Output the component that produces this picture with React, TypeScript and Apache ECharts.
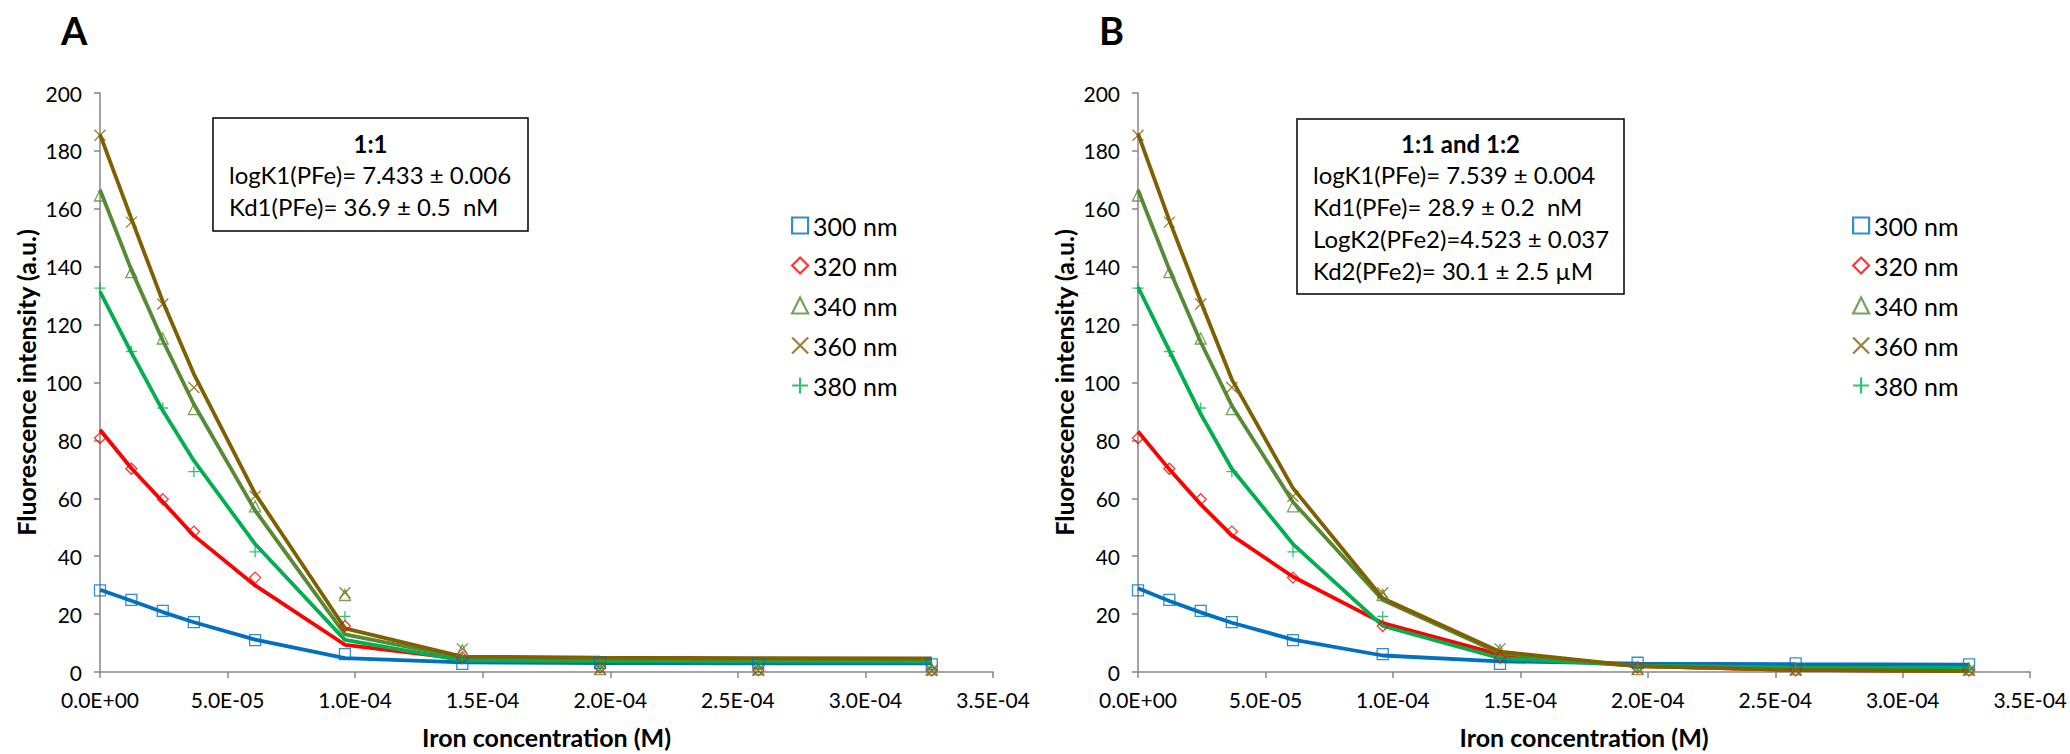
import React, { useEffect, useRef } from "react";
import * as echarts from "echarts";

// Iron concentration (M)
const ironConc = [0, 1.23e-5, 2.46e-5, 3.68e-5, 6.08e-5, 9.6e-5, 1.42e-4, 1.96e-4, 2.58e-4, 3.26e-4];

const wavelengths = ["300 nm", "320 nm", "340 nm", "360 nm", "380 nm"];

// Measured fluorescence (same in both panels)
const obs300 = [28.2, 24.9, 21.1, 17.2, 11.0, 6.2, 2.8, 3.2, 3.0, 2.6];
const obs320 = [80.8, 70.2, 59.7, 48.5, 32.6, 15.9, 5.0, 1.5, 0.6, 0.5];
const obs340 = [164.6, 138.1, 115.2, 90.8, 57.2, 26.6, 7.5, 1.0, 0.9, 0.9];
const obs360 = [185.4, 155.4, 127.1, 98.3, 60.7, 27.4, 8.0, 1.0, 0.6, 0.5];
const obs380 = [132.6, 110.7, 91.2, 69.2, 41.5, 19.2, 4.5, 2.0, 1.6, 1.5];

// Fit panel A (1:1)
const fitA300 = [28.4, 24.6, 20.7, 17.2, 11.2, 4.8, 3.3, 3.1, 3.0, 3.0];
const fitA320 = [83.7, 70.4, 58.8, 47.1, 29.9, 9.4, 4.5, 3.6, 3.5, 3.5];
const fitA340 = [166.6, 138.9, 114.5, 92.5, 55.8, 13.0, 5.0, 4.6, 4.4, 4.3];
const fitA360 = [185.7, 156.6, 128.0, 102.9, 61.6, 15.1, 5.3, 5.0, 4.8, 4.7];
const fitA380 = [131.4, 110.3, 90.3, 73.0, 44.2, 11.1, 4.0, 3.8, 3.7, 3.6];

// Fit panel B (1:1 and 1:2)
const fitB300 = [28.9, 24.5, 20.6, 17.0, 11.2, 5.7, 3.7, 2.9, 2.7, 2.5];
const fitB320 = [83.1, 70.0, 57.9, 47.2, 32.9, 16.9, 6.0, 2.0, 0.7, 0.3];
const fitB340 = [166.5, 139.0, 114.0, 92.0, 58.7, 24.9, 6.5, 2.0, 0.8, 0.3];
const fitB360 = [186.0, 156.0, 128.0, 101.1, 63.5, 25.5, 7.0, 2.0, 0.7, 0.3];
const fitB380 = [133.0, 111.0, 89.1, 70.2, 44.2, 15.9, 4.8, 2.2, 1.5, 1.3];

const yTicks = { min: 0, max: 200, interval: 20 };
const xTicks = { min: 0, max: 3.5e-4, interval: 5e-5 };

const boxA = ["1:1", "logK1(PFe)= 7.433 ± 0.006", "Kd1(PFe)= 36.9 ± 0.5  nM"];
const boxB = [
  "1:1 and 1:2",
  "logK1(PFe)= 7.539 ± 0.004",
  "Kd1(PFe)= 28.9 ± 0.2  nM",
  "LogK2(PFe2)=4.523 ± 0.037",
  "Kd2(PFe2)= 30.1 ± 2.5 µM",
];

const colors = ["#0070C0", "#FF0000", "#578A34", "#7F6000", "#00B050"];
const symbols = [
  "rect",
  "diamond",
  "triangle",
  "path://M0,0L10,10M10,0L0,10",
  "path://M5,0L5,10M0,5L10,5",
];

const FONT = 'Lato, "Noto Sans", sans-serif';

const fmtExp = (v: number) => {
  if (Math.abs(v) < 1e-12) return "0.0E+00";
  const s = v.toExponential(1).toUpperCase();
  return s.replace(/E([+-])(\d+)$/, (_m, sg, d) => "E" + sg + (d.length < 2 ? "0" + d : d));
};

const pair = (ys: number[]) => ironConc.map((x, i) => [x, ys[i]]);

export default function App() {
  const ref = useRef<HTMLDivElement>(null);
  useEffect(() => {
    if (!ref.current) return;
    const chart = echarts.init(ref.current, null, { renderer: "svg" });
    const obs = [obs300, obs320, obs340, obs360, obs380];
    const fitA = [fitA300, fitA320, fitA340, fitA360, fitA380];
    const fitB = [fitB300, fitB320, fitB340, fitB360, fitB380];
    const lineOrder = [0, 1, 4, 2, 3];

    const grids = [
      { left: 100, top: 93, width: 893, height: 583 },
      { left: 1138, top: 93, width: 911, height: 583 },
    ];

    const axisLine = { show: true, lineStyle: { color: "#868686", width: 1.5 } };
    const axisTick = { show: true, inside: false, length: 6, lineStyle: { color: "#868686", width: 1.5 } };

    const xAxes = [0, 1].map((g) => ({
      type: "value",
      gridIndex: g,
      min: xTicks.min,
      max: xTicks.max,
      interval: xTicks.interval,
      axisLine,
      axisTick,
      splitLine: { show: false },
      axisLabel: { formatter: fmtExp, fontSize: 21, fontFamily: FONT, color: "#000", margin: 17 },
      name: "Iron concentration (M)",
      nameLocation: "middle",
      nameGap: 52,
      nameTextStyle: { fontSize: 25, fontWeight: "bold", fontFamily: FONT, color: "#000" },
    }));

    const yAxes = [0, 1].map((g) => ({
      type: "value",
      gridIndex: g,
      min: yTicks.min,
      max: yTicks.max,
      interval: yTicks.interval,
      axisLine,
      axisTick,
      splitLine: { show: false },
      axisLabel: { fontSize: 21, fontFamily: FONT, color: "#000", margin: 18 },
      name: "Fluorescence intensity (a.u.)",
      nameLocation: "middle",
      nameGap: 62,
      nameTextStyle: { fontSize: 25, fontWeight: "bold", fontFamily: FONT, color: "#000" },
    }));

    const series: any[] = [];
    [fitA, fitB].forEach((fits, g) => {
      lineOrder.forEach((k) => {
        series.push({
          type: "line",
          name: wavelengths[k] + " fit " + (g === 0 ? "A" : "B"),
          xAxisIndex: g,
          yAxisIndex: g,
          data: pair(fits[k]),
          showSymbol: false,
          symbol: "none",
          lineStyle: { color: colors[k], width: 3.8 },
          itemStyle: { color: colors[k] },
          z: 2,
        });
      });
      for (let k = 0; k < 5; k++) {
        series.push({
          type: "scatter",
          name: wavelengths[k],
          xAxisIndex: g,
          yAxisIndex: g,
          data: pair(obs[k]),
          symbol: symbols[k],
          symbolSize: 11,
          itemStyle: { color: "transparent", borderColor: colors[k], borderWidth: 1.3 },
          z: 3,
        });
      }
    });

    const legendBase = {
      orient: "vertical",
      top: 208,
      itemGap: 15,
      itemWidth: 16,
      itemHeight: 16,
      data: wavelengths,
      selectedMode: false,
      itemStyle: { borderWidth: 2.2 },
      textStyle: { fontSize: 25, fontFamily: FONT, color: "#000" },
    };

    const textStyle = (bold: boolean) => ({
      fontSize: 24,
      fontFamily: FONT,
      fontWeight: bold ? "bold" : "normal",
      fill: "#000",
    });

    const makeBox = (x0: number, y0: number, w: number, h: number, textLeft: number, lines: string[]) => ({
      type: "group",
      children: [
        {
          type: "rect",
          shape: { x: x0, y: y0, width: w, height: h },
          style: { fill: "#fff", stroke: "#000", lineWidth: 1.5 },
          z: 10,
        },
        ...lines.map((t, i) => ({
          type: "text",
          x: i === 0 ? x0 + w / 2 : textLeft,
          y: 143 + i * 31.8,
          z: 11,
          style: {
            text: t,
            ...textStyle(i === 0),
            align: i === 0 ? "center" : "left",
            verticalAlign: "middle",
          },
        })),
      ],
    });

    chart.setOption({
      animation: false,
      backgroundColor: "#fff",
      grid: grids,
      xAxis: xAxes,
      yAxis: yAxes,
      legend: [
        { ...legendBase, left: 786 },
        { ...legendBase, left: 1847 },
      ],
      series,
      graphic: [
        {
          type: "text",
          left: 61,
          top: 11,
          style: { text: "A", fontSize: 38, fontWeight: "bold", fontFamily: FONT, fill: "#000" },
        },
        {
          type: "text",
          left: 1099,
          top: 11,
          style: { text: "B", fontSize: 38, fontWeight: "bold", fontFamily: FONT, fill: "#000" },
        },
        makeBox(213, 118, 315, 113, 229, boxA),
        makeBox(1297, 119, 327, 175, 1313, boxB),
      ],
    });
    return () => chart.dispose();
  }, []);
  return (
    <div
      ref={ref}
      style={{ position: "fixed", left: 0, top: 0, width: 2070, height: 754, background: "#fff" }}
    />
  );
}
